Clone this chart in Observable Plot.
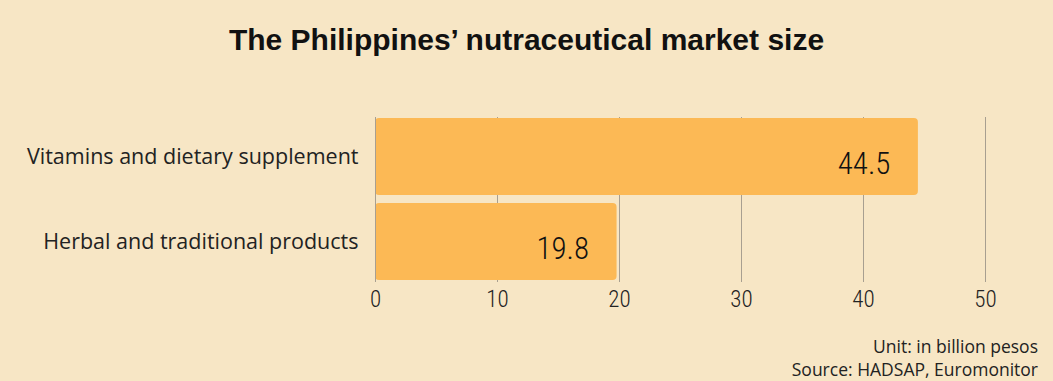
<!DOCTYPE html>
<html>
<head>
<meta charset="utf-8">
<script src="https://cdn.jsdelivr.net/npm/d3@7"></script>
<script src="https://cdn.jsdelivr.net/npm/@observablehq/plot@0.6"></script>
<style>
  html, body { margin: 0; padding: 0; background: #f7e6c5; }
  #page { position: relative; width: 1053px; height: 381px; overflow: hidden; background: #f7e6c5; }
  #title { position: absolute; left: 0; top: 22px; width: 1053px; text-align: center;
    font-family: "Liberation Sans", Arial, sans-serif; font-weight: bold; font-size: 30px; line-height: 36px; color: #111; }
  #chart { position: absolute; left: 0; top: 100px; }
  #caption { position: absolute; right: 15px; top: 335px; text-align: right;
    font-family: "Open Sans", sans-serif; font-size: 17.5px; line-height: 23px; color: #222; }
</style>
</head>
<body>
<div id="page">
  <div id="title">The Philippines’ nutraceutical market size</div>
  <div id="chart"></div>
  <div id="caption">Unit: in billion pesos<br>Source: HADSAP, Euromonitor</div>
</div>
<script>
const categories = ["Vitamins and dietary supplement", "Herbal and traditional products"];
const values = [44.5, 19.8];
const xTicks = [0, 10, 20, 30, 40, 50];

const data = categories.map((c, i) => ({category: c, value: values[i]}));
const narrow = "'Liberation Sans Narrow', 'Roboto Condensed', Roboto, sans-serif";

const chart = Plot.plot({
  width: 1053,
  height: 230,
  marginLeft: 375,
  marginRight: 68,
  marginTop: 17,
  marginBottom: 48,
  style: {background: "transparent"},
  x: {domain: [0, 50], ticks: xTicks},
  y: {domain: categories, paddingInner: 0.094, paddingOuter: 0.01},
  marks: [
    Plot.gridX(xTicks, {stroke: "#a89f90", strokeOpacity: 1, strokeWidth: 1}),
    Plot.barX(data, {x: "value", y: "category", fill: "#fcb955", rx: 4}),
    Plot.text(data, {x: "value", y: "category", text: d => d.value.toFixed(1), textAnchor: "end", dx: -28, dy: 7,
      fontSize: 31, fontWeight: 300, fill: "#111", fontFamily: narrow}),
    Plot.axisX(xTicks, {tickSize: 0, tickPadding: 8, fontSize: 23, fontWeight: 300, fill: "#222", label: null, fontFamily: narrow}),
    Plot.axisY({tickSize: 0, tickPadding: 17, fontSize: 21.5, fill: "#222", label: null,
      fontFamily: "'Open Sans', sans-serif"}),
    Plot.ruleX([0], {stroke: "#a89f90"})
  ]
});
document.getElementById("chart").appendChild(chart);
</script>
</body>
</html>
